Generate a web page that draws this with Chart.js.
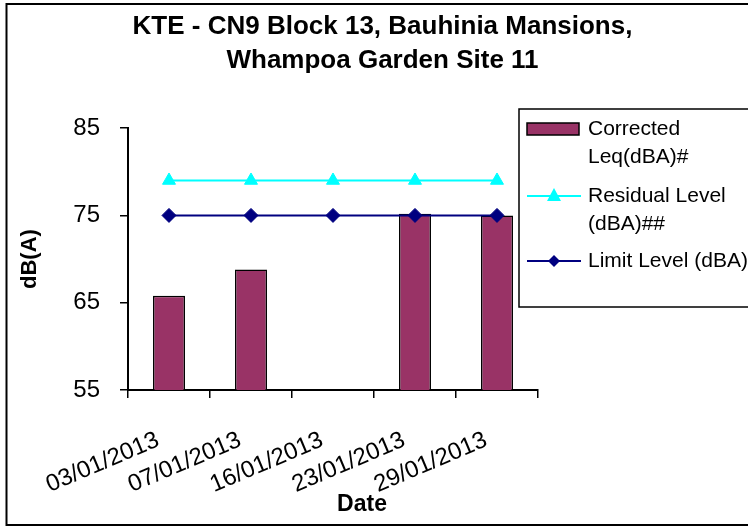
<!DOCTYPE html>
<html><head><meta charset="utf-8">
<script src="https://cdn.jsdelivr.net/npm/chart.js@4"></script>
<style>html,body{margin:0;padding:0;background:#fff}</style>
</head><body>
<canvas id="c" width="748" height="527"></canvas>
<script>
const titleLines = ["KTE - CN9 Block 13, Bauhinia Mansions,", "Whampoa Garden Site 11"];
const dates = ["03/01/2013", "07/01/2013", "16/01/2013", "23/01/2013", "29/01/2013"];
const correctedLeq = [65.8, 68.8, null, 75.2, 75.0];
const residualLevel = [79, 79, 79, 79, 79];
const limitLevel = [75, 75, 75, 75, 75];
const seriesNames = ["Corrected Leq(dBA)#", "Residual Level (dBA)##", "Limit Level (dBA)"];
const legendLines = [["Corrected", "Leq(dBA)#"], ["Residual Level", "(dBA)##"], ["Limit Level (dBA)"]];
const yMin = 55, yMax = 85, yStep = 10;
const xTitle = "Date";
const yTitle = "dB(A)";

const FONT = "'Liberation Sans', Arial, sans-serif";

const decor = {
  id: 'decor',
  beforeDraw(chart) {
    const ctx = chart.ctx;
    ctx.save();
    ctx.fillStyle = '#fff';
    ctx.fillRect(0, 0, chart.width, chart.height);
    ctx.restore();
  },
  afterDraw(chart) {
    const ctx = chart.ctx;
    const ds = chart.data.datasets;
    ctx.save();
    // outer frame
    ctx.strokeStyle = '#000';
    ctx.lineWidth = 2;
    ctx.strokeRect(6.5, 4, 800, 521);
    // x axis title
    ctx.fillStyle = '#000';
    ctx.font = "bold 23px " + FONT;
    ctx.textAlign = 'center';
    ctx.textBaseline = 'middle';
    ctx.fillText(xTitle, 362, 505);
    // legend
    const lx = 519, ly = 109;
    ctx.fillStyle = '#fff';
    ctx.fillRect(lx, ly, 260, 198);
    ctx.lineWidth = 1.5;
    ctx.strokeStyle = '#000';
    ctx.strokeRect(lx, ly, 260, 198);
    const rows = [129, 196, 261];
    ctx.font = "21px " + FONT;
    ctx.textAlign = 'left';
    ctx.textBaseline = 'middle';
    rows.forEach((ry, i) => {
      const d = ds[i];
      if (i === 0) {
        ctx.fillStyle = d.backgroundColor;
        ctx.fillRect(527, ry - 6, 52, 12);
        ctx.strokeStyle = '#000';
        ctx.lineWidth = 1.5;
        ctx.strokeRect(527, ry - 6, 52, 12);
      } else {
        ctx.strokeStyle = d.borderColor;
        ctx.lineWidth = 2;
        ctx.beginPath(); ctx.moveTo(527, ry); ctx.lineTo(581, ry); ctx.stroke();
        ctx.fillStyle = d.backgroundColor;
        ctx.beginPath();
        if (d.pointStyle === 'triangle') {
          ctx.moveTo(554, ry - 8); ctx.lineTo(561, ry + 5); ctx.lineTo(547, ry + 5);
        } else {
          ctx.moveTo(554, ry - 6); ctx.lineTo(560, ry); ctx.lineTo(554, ry + 6); ctx.lineTo(548, ry);
        }
        ctx.closePath(); ctx.fill();
      }
      ctx.fillStyle = '#000';
      legendLines[i].forEach((t, k) => ctx.fillText(t, 588, ry + k * 28));
    });
    ctx.restore();
  }
};

new Chart(document.getElementById('c'), {
  type: 'bar',
  data: {
    labels: dates,
    datasets: [
      { type: 'bar', label: seriesNames[0], data: correctedLeq, backgroundColor: '#993366',
        borderColor: '#000', borderWidth: 1.5, categoryPercentage: 1, barPercentage: 0.39, order: 3 },
      { type: 'line', label: seriesNames[1], data: residualLevel, borderColor: '#00FFFF',
        backgroundColor: '#00FFFF', borderWidth: 2, pointStyle: 'triangle', pointRadius: 7.5,
        pointBorderWidth: 1, order: 2 },
      { type: 'line', label: seriesNames[2], data: limitLevel, borderColor: '#000080',
        backgroundColor: '#000080', borderWidth: 2, pointStyle: 'rectRot', pointRadius: 7,
        pointBorderWidth: 1, order: 1 }
    ]
  },
  options: {
    responsive: false,
    animation: false,
    devicePixelRatio: 1,
    layout: { padding: { left: 17, top: 0, right: 0, bottom: 0 } },
    plugins: {
      legend: { display: false },
      tooltip: { enabled: false },
      title: {
        display: true, text: titleLines, color: '#000',
        font: { family: FONT, size: 26, weight: 'bold', lineHeight: 1.31 },
        padding: { top: 10, bottom: 50 }
      }
    },
    scales: {
      x: {
        offset: true,
        grid: { display: true, drawOnChartArea: false, drawTicks: true, tickLength: 8,
                color: '#000', lineWidth: 1.5, offset: true },
        border: { display: true, color: '#000', width: 2 },
        ticks: { color: '#000', font: { family: FONT, size: 24 }, minRotation: 23, maxRotation: 23,
                 autoSkip: false, padding: 28, labelOffset: -11 },
        afterFit(s) { s.height = 137; }
      },
      y: {
        min: yMin, max: yMax,
        ticks: { stepSize: yStep, color: '#000', font: { family: FONT, size: 24 }, padding: 20 },
        grid: { drawOnChartArea: false, tickLength: 8, color: '#000', lineWidth: 1.5 },
        border: { display: true, color: '#000', width: 2 },
        title: { display: true, text: yTitle, color: '#000',
                 font: { family: FONT, size: 22, weight: 'bold' }, padding: 0 },
        afterFit(s) { s.width = 111; }
      },
      yR: {
        position: 'right', display: true,
        grid: { display: false }, ticks: { display: false }, border: { display: false },
        afterFit(s) { s.width = 210; }
      }
    }
  },
  plugins: [decor]
});
</script>
</body></html>
